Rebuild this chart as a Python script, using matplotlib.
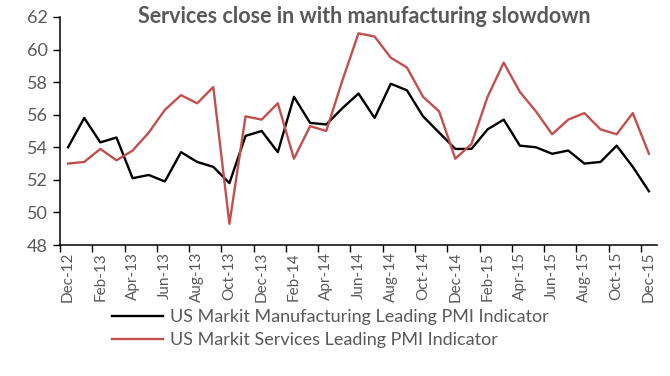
import matplotlib.pyplot as plt
import numpy as np

# Datos (Dec-12 .. Dec-15, mensual)
months = ['Dec-12', 'Jan-13', 'Feb-13', 'Mar-13', 'Apr-13', 'May-13', 'Jun-13', 'Jul-13',
          'Aug-13', 'Sep-13', 'Oct-13', 'Nov-13', 'Dec-13', 'Jan-14', 'Feb-14', 'Mar-14',
          'Apr-14', 'May-14', 'Jun-14', 'Jul-14', 'Aug-14', 'Sep-14', 'Oct-14', 'Nov-14',
          'Dec-14', 'Jan-15', 'Feb-15', 'Mar-15', 'Apr-15', 'May-15', 'Jun-15', 'Jul-15',
          'Aug-15', 'Sep-15', 'Oct-15', 'Nov-15', 'Dec-15']
manufacturing = [54.0, 55.8, 54.3, 54.6, 52.1, 52.3, 51.9, 53.7, 53.1, 52.8, 51.8, 54.7,
                 55.0, 53.7, 57.1, 55.5, 55.4, 56.4, 57.3, 55.8, 57.9, 57.5, 55.9, 54.9,
                 53.9, 53.9, 55.1, 55.7, 54.1, 54.0, 53.6, 53.8, 53.0, 53.1, 54.1, 52.8, 51.3]
services = [53.0, 53.1, 53.9, 53.2, 53.8, 54.9, 56.3, 57.2, 56.7, 57.7, 49.3, 55.9,
            55.7, 56.7, 53.3, 55.3, 55.0, 58.1, 61.0, 60.8, 59.5, 58.9, 57.1, 56.2,
            53.3, 54.2, 57.1, 59.2, 57.4, 56.2, 54.8, 55.7, 56.1, 55.1, 54.8, 56.1, 53.6]

plt.rcParams['font.family'] = ['Lato', 'DejaVu Sans']
gray = '#595959'

fig = plt.figure(figsize=(6.7, 3.76), dpi=100)
ax = fig.add_axes([60 / 670, 1 - 245 / 376, 597 / 670, 228 / 376])

x = np.arange(len(months))
ax.plot(x, manufacturing, color='black', linewidth=1.7,
        label='US Markit Manufacturing Leading PMI Indicator')
ax.plot(x, services, color='#C0504D', linewidth=1.7,
        label='US Markit Services Leading PMI Indicator')

ax.set_xlim(-0.5, len(months) - 0.5)
ax.set_ylim(48, 62)
ax.set_yticks(range(48, 63, 2))

# etiquetas cada 2 meses, marcas entre categorias
ax.set_xticks(x[::2])
ax.set_xticklabels(months[::2], rotation=90)
ax.set_xticks(np.arange(-0.5, len(months), 2), minor=True)
ax.tick_params(axis='x', which='major', length=0, pad=5, labelsize=11)
ax.tick_params(axis='x', which='minor', length=5, width=1, direction='out')
ax.tick_params(axis='y', length=5, width=1, direction='out', pad=4, labelsize=13)
ax.tick_params(labelcolor=gray)

for s in ['top', 'right']:
    ax.spines[s].set_visible(False)
for s in ['left', 'bottom']:
    ax.spines[s].set_linewidth(1.1)

ax.text(0.51, 1.0, 'Services close in with manufacturing slowdown', transform=ax.transAxes,
        ha='center', va='center', fontsize=15.5, fontweight='bold', color=gray)

leg = fig.legend(loc='upper left', bbox_to_anchor=(103 / 670, 1 - 300 / 376), frameon=False,
                 fontsize=13, handlelength=2.8, handletextpad=0.4, labelspacing=0.4,
                 borderpad=0)
for t in leg.get_texts():
    t.set_color(gray)

plt.savefig('out.png', dpi=100)
